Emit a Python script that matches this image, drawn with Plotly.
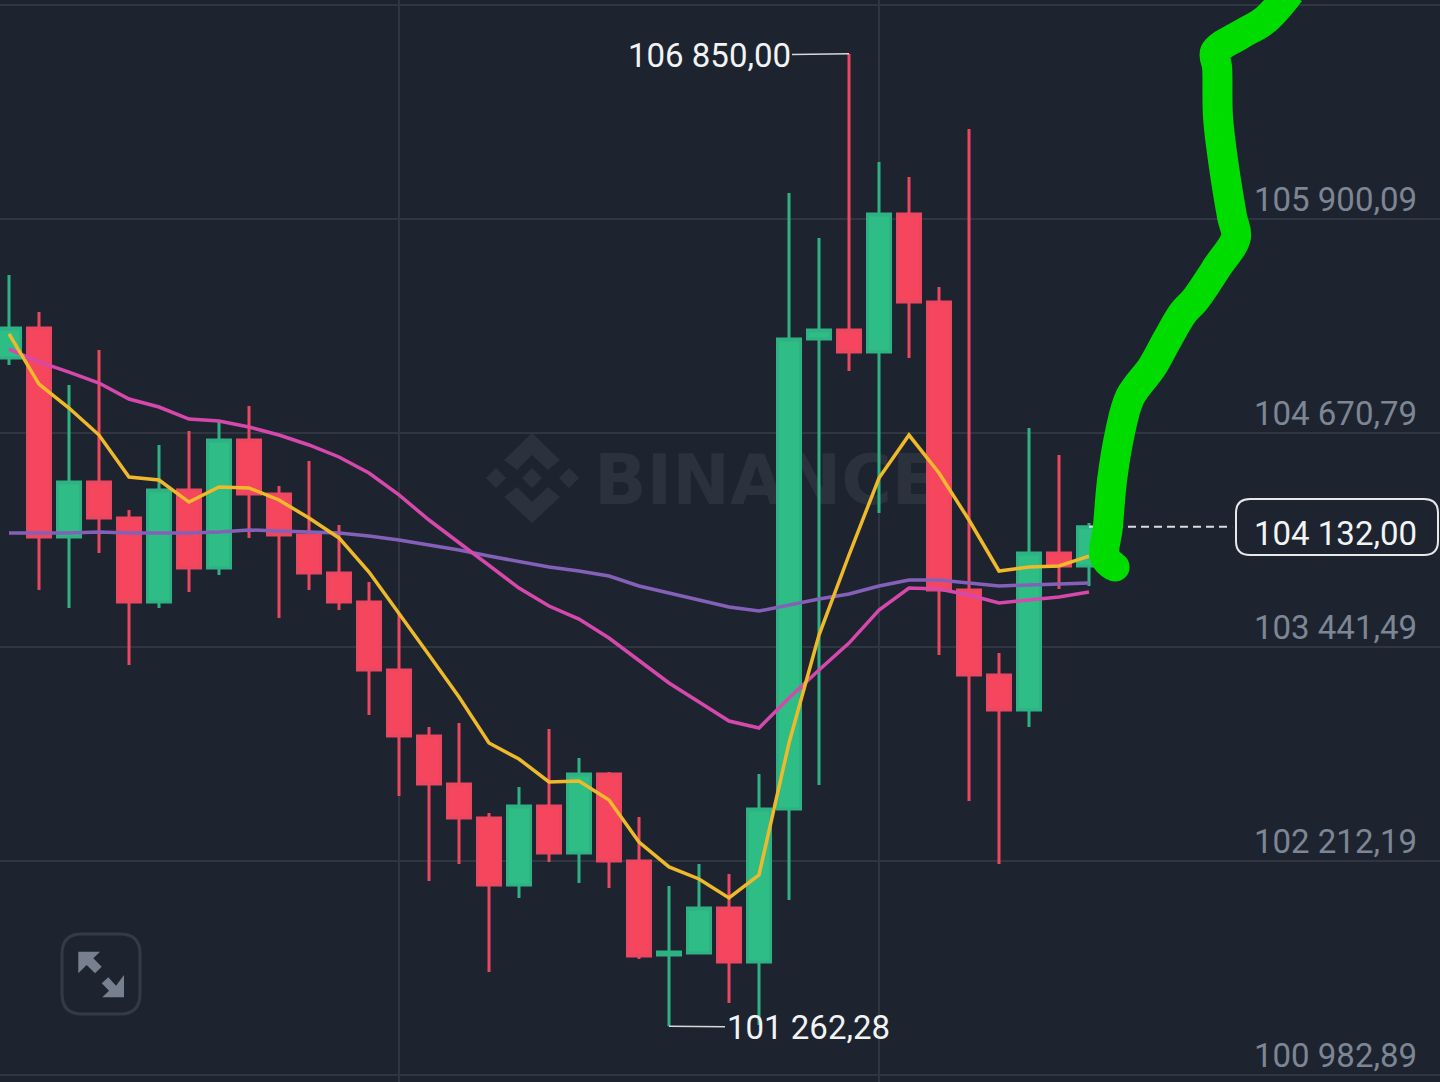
# BTC candles with moving averages and a hand drawn green arrow line
import plotly.graph_objects as go

# OHLC
opens = [105101.6, 105274.0, 104073.4, 104389.3, 104182.5, 103700.0, 104343.4, 103895.3, 104630.6, 104320.4,
         104084.9, 103866.6, 103700.0, 103309.4, 102930.3, 102654.5, 102459.2, 102074.3, 102528.1, 102258.2,
         102712.0, 102212.2, 101672.3, 101683.7, 101942.2, 101632.0, 102510.9, 105210.7, 105262.5, 105136.1,
         105928.8, 105423.3, 103769.0, 103280.6, 103079.6, 103981.5, 103906.8]
highs = [105578.4, 105365.8, 104946.6, 105147.6, 104228.5, 104601.9, 104682.3, 104745.5, 104825.9, 104366.3,
         104509.9, 104142.3, 103814.9, 103636.8, 102982.0, 103004.9, 102487.9, 102637.3, 102970.5, 102803.9,
         102723.5, 102465.0, 102068.6, 102194.9, 102137.5, 102712.0, 106049.4, 105790.9, 106850.0, 106227.5,
         106141.3, 105509.5, 106417.1, 103407.0, 104699.5, 104544.4, 104153.8]
lows = [105061.4, 103769.0, 103665.5, 103981.5, 103338.1, 103665.5, 103757.5, 103855.1, 104067.6, 103608.1,
        103769.0, 103654.0, 103050.9, 102585.6, 102097.3, 102194.9, 101574.6, 101999.7, 102206.4, 102085.8,
        102057.1, 101649.3, 101262.28, 101683.7, 101396.5, 101270.0, 101988.1, 102648.8, 105027.0, 104211.2,
        105101.6, 103395.5, 102556.8, 102194.9, 102982.0, 103774.7, 103791.9]
closes = [105274.0, 104073.4, 104389.3, 104182.5, 103700.0, 104343.4, 103895.3, 104630.6, 104320.4, 104084.9,
          103866.6, 103700.0, 103309.4, 102930.3, 102654.5, 102459.2, 102074.3, 102528.1, 102258.2, 102712.0,
          102212.2, 101666.5, 101689.5, 101942.2, 101632.0, 102510.9, 105210.7, 105262.5, 105136.1, 105928.8,
          105423.3, 103769.0, 103280.6, 103079.6, 103981.5, 103906.8, 104132.0]
candle_x = list(range(len(opens)))

# moving averages
ma7 = [105240, 104952, 104814, 104659, 104418, 104401, 104274, 104361, 104355, 104286,
       104182, 104068, 103872, 103637, 103396, 103154, 102890, 102798, 102666, 102672,
       102563, 102321, 102178, 102109, 102000, 102132, 102890, 103510, 103970, 104412,
       104659, 104441, 104171, 103878, 103901, 103907, 103964]
ma25 = [105153, 105079, 105021, 104958, 104866, 104820, 104751, 104740, 104705, 104659,
        104602, 104533, 104441, 104315, 104171, 104039, 103907, 103780, 103677, 103602,
        103493, 103367, 103235, 103126, 103016, 102976, 103149, 103309, 103464, 103654,
        103780, 103775, 103740, 103694, 103711, 103729, 103758]
ma99 = [104096, 104096, 104096, 104102, 104096, 104096, 104096, 104102, 104114, 104108,
        104102, 104096, 104079, 104056, 104027, 103999, 103964, 103930, 103901, 103878,
        103849, 103792, 103752, 103711, 103671, 103648, 103683, 103717, 103746, 103792,
        103826, 103826, 103809, 103792, 103798, 103803, 103809]

# hand drawn line
marker_x = [36.87, 36.53, 36.63, 36.77, 37.03, 37.37, 38.1, 38.6, 39.13, 39.53,
            40.27, 40.9, 40.77, 40.5, 40.3, 40.27, 40.2, 41.03, 41.87, 42.7]
marker_y = [103901, 103958, 104132, 104401, 104671, 104878, 105050, 105205, 105360, 105435,
            105624, 105797, 105912, 106199, 106486, 106773, 106859, 106957, 107043, 107204]

y_ticks = [107129.39, 105900.09, 104670.79, 103441.49, 102212.19, 100982.89]
y_labels = ["105 900,09", "104 670,79", "103 441,49", "102 212,19", "100 982,89"]
x_ticks = [13, 29]
last_price = 104132.00
last_label = "104 132,00"

BG = "#1e242f"
GRID = "#2f3541"
W, H = 1440, 1082


# pixel helpers for the decorations that are not data
def px(x):
    return x / W


def py(y):
    return 1 - y / H


def poly(points):
    return "M" + " L".join(f"{px(a):.5f},{py(b):.5f}" for a, b in points) + " Z"


def round_rect(x0, y0, x1, y1, r):
    return (f"M{px(x0 + r):.5f},{py(y0):.5f} L{px(x1 - r):.5f},{py(y0):.5f} "
            f"Q{px(x1):.5f},{py(y0):.5f} {px(x1):.5f},{py(y0 + r):.5f} "
            f"L{px(x1):.5f},{py(y1 - r):.5f} Q{px(x1):.5f},{py(y1):.5f} {px(x1 - r):.5f},{py(y1):.5f} "
            f"L{px(x0 + r):.5f},{py(y1):.5f} Q{px(x0):.5f},{py(y1):.5f} {px(x0):.5f},{py(y1 - r):.5f} "
            f"L{px(x0):.5f},{py(y0 + r):.5f} Q{px(x0):.5f},{py(y0):.5f} {px(x0 + r):.5f},{py(y0):.5f} Z")


fig = go.Figure()
fig.add_trace(go.Candlestick(
    x=candle_x, open=opens, high=highs, low=lows, close=closes,
    increasing=dict(line=dict(color="#2eb283", width=3), fillcolor="#2ebd85"),
    decreasing=dict(line=dict(color="#ec4760", width=3), fillcolor="#f6465d"),
    whiskerwidth=0, hoverinfo="skip"))
fig.add_trace(go.Scatter(x=candle_x, y=ma99, mode="lines", line=dict(color="#8560b8", width=3.5), hoverinfo="skip"))
fig.add_trace(go.Scatter(x=candle_x, y=ma25, mode="lines", line=dict(color="#d648ab", width=3.5), hoverinfo="skip"))
fig.add_trace(go.Scatter(x=candle_x, y=ma7, mode="lines", line=dict(color="#eeb92b", width=3.5), hoverinfo="skip"))
# dashed last price line runs under the marker
fig.add_trace(go.Scatter(x=[candle_x[-1], 40.77], y=[last_price, last_price], mode="lines",
                         line=dict(color="#d9dcdf", width=2, dash="8px,5px"), hoverinfo="skip"))
# round blobs only at the tip and at the top corner of the stroke
marker_sizes = [29 if i in (0, 16) else 0 for i in range(len(marker_x))]
fig.add_trace(go.Scatter(x=marker_x, y=marker_y, mode="lines+markers",
                         line=dict(color="#00dc00", width=30, shape="spline", smoothing=1.0),
                         marker=dict(color="#00dc00", size=marker_sizes, opacity=1, line=dict(width=0)),
                         hoverinfo="skip"))

shapes = [
    # watermark
    dict(type="path", xref="paper", yref="paper", layer="below", line_width=0, fillcolor="#2c323d",
         path=poly([(532, 468), (542, 478), (532, 488), (522, 478)])),
    dict(type="path", xref="paper", yref="paper", layer="below", line_width=0, fillcolor="#2c323d",
         path=poly([(496, 468), (506, 478), (496, 488), (486, 478)])),
    dict(type="path", xref="paper", yref="paper", layer="below", line_width=0, fillcolor="#2c323d",
         path=poly([(569, 468), (579, 478), (569, 488), (559, 478)])),
    dict(type="path", xref="paper", yref="paper", layer="below", line_width=0, fillcolor="#2c323d",
         path=poly([(532, 433), (560, 460), (548, 470), (532, 455), (517, 470), (504, 460)])),
    dict(type="path", xref="paper", yref="paper", layer="below", line_width=0, fillcolor="#2c323d",
         path=poly([(532, 523), (560, 497), (548, 487), (532, 502), (517, 487), (504, 497)])),
    dict(type="rect", xref="paper", yref="paper", layer="below", line_width=0, fillcolor="rgba(0,0,0,0)",
         x0=px(591), x1=px(935), y0=py(511), y1=py(438),
         label=dict(text="<b>BINANCE</b>", textposition="middle left", padding=0,
                    font=dict(family="DejaVu Sans", size=69, color="#2c323d"))),
    # expand button
    dict(type="path", xref="paper", yref="paper", layer="above", line=dict(color="#343b47", width=3),
         path=round_rect(62, 934, 140, 1014, 20)),
    dict(type="path", xref="paper", yref="paper", layer="above", line_width=0, fillcolor="#76808f",
         path=poly([(78.3, 951.7), (100, 951.7), (93.3, 958.3), (101.7, 966.7), (95, 973.3), (86.7, 965), (78.3, 973.3)])),
    dict(type="path", xref="paper", yref="paper", layer="above", line_width=0, fillcolor="#76808f",
         path=poly([(124, 997.3), (102.3, 997.3), (109, 990.7), (101.7, 983.3), (108.3, 977.3), (116, 985.7), (124, 975)])),
    # last price box
    dict(type="path", xref="paper", yref="paper", layer="above", line=dict(color="#e6e8ea", width=2), fillcolor=BG,
         path=round_rect(1236, 499, 1438, 555, 14)),
]

annotations = []
for val, lab in zip(y_ticks[1:], y_labels):
    annotations.append(dict(xref="paper", yref="y", x=px(1419), y=val, text=lab, showarrow=False,
                            xanchor="right", yanchor="bottom", yshift=-2,
                            font=dict(family="Roboto", size=33, color="#7d8694")))
annotations.append(dict(xref="paper", yref="y", x=px(1419), y=last_price, text=last_label, showarrow=False,
                        xanchor="right", yanchor="middle", yshift=-7,
                        font=dict(family="Roboto", size=33, color="#f2f3f5")))
# high / low labels
annotations.append(dict(x=28, y=max(highs), text="106 850,00", showarrow=True, arrowhead=0, arrowwidth=1.5,
                        arrowcolor="#d5d8dc", ax=-140, ay=2, font=dict(family="Roboto", size=33, color="#f2f3f5")))
annotations.append(dict(x=22, y=min(lows), text="101 262,28", showarrow=True, arrowhead=0, arrowwidth=1.5,
                        arrowcolor="#d5d8dc", ax=139, ay=1, font=dict(family="Roboto", size=33, color="#f2f3f5")))

fig.update_layout(
    width=W, height=H, margin=dict(l=0, r=0, t=0, b=0),
    paper_bgcolor=BG, plot_bgcolor=BG, showlegend=False, boxgap=0.233, boxgroupgap=0,
    shapes=shapes, annotations=annotations,
    xaxis=dict(range=[-0.3, 47.7], rangeslider=dict(visible=False), tickvals=x_ticks, showticklabels=False,
               showgrid=True, gridcolor=GRID, gridwidth=1.5, zeroline=False, fixedrange=True),
    yaxis=dict(range=[100942.7, 107158.1], tickvals=y_ticks, showticklabels=False,
               showgrid=True, gridcolor=GRID, gridwidth=1.5, zeroline=False, fixedrange=True),
)
fig.write_html("out.html", config=dict(displayModeBar=False),
               post_script="document.body.style.margin='0';document.body.style.overflow='hidden';")
